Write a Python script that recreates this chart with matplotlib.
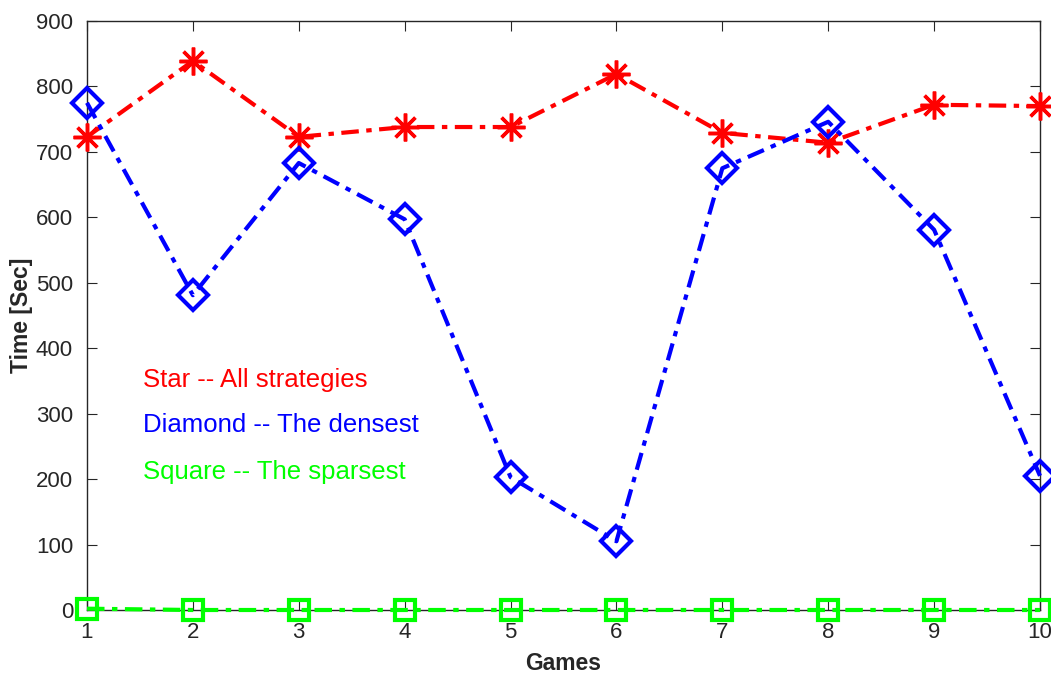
import matplotlib
matplotlib.use('Agg')
import matplotlib.pyplot as plt

plt.rcParams['font.family'] = ['Liberation Sans', 'DejaVu Sans']

games = [1, 2, 3, 4, 5, 6, 7, 8, 9, 10]
all_strategies = [723, 839, 723, 738, 738, 819, 729, 714, 772, 770]
densest = [775, 481, 683, 597, 203, 105, 675, 746, 581, 205]
sparsest = [2, 0, 0, 0, 0, 0, 0, 0, 0, 0]

dashdot = (0, (4.2, 1.8, 1.3, 1.8))

fig = plt.figure(figsize=(10.51, 6.74), dpi=100)
ax = fig.add_axes([87 / 1051, 64 / 674, 953 / 1051, 589 / 674])

ax.plot(games, all_strategies, color='#ff0000', linestyle=dashdot, linewidth=3,
        marker=(8, 2, 0), markersize=20, markeredgewidth=2.5, clip_on=False, zorder=3)
ax.plot(games, densest, color='#0000ff', linestyle=dashdot, linewidth=3,
        marker='D', markersize=15, markerfacecolor='none', markeredgewidth=3,
        clip_on=False, zorder=3)
ax.plot(games, sparsest, color='#00ff00', linestyle=dashdot, linewidth=3,
        marker='s', markersize=15, markerfacecolor='none', markeredgewidth=3,
        clip_on=False, zorder=3)

ax.text(1.53, 351, 'Star -- All strategies', color='#ff0000', fontsize=18.5, va='center')
ax.text(1.53, 283, 'Diamond -- The densest', color='#0000ff', fontsize=18.5, va='center')
ax.text(1.53, 211, 'Square -- The sparsest', color='#00ff00', fontsize=18.5, va='center')

ax.set_xlim(1, 10)
ax.set_ylim(0, 900)
ax.set_xticks(games)
ax.set_yticks(range(0, 901, 100))
ax.tick_params(direction='in', labelsize=16, length=7, colors='#262626',
               top=True, right=True)
ax.tick_params(axis='x', pad=9)
ax.tick_params(axis='y', pad=10)
for s in ax.spines.values():
    s.set_color('#262626')
    s.set_linewidth(1)

ax.set_xlabel('Games', fontsize=16.5, fontweight='bold', color='#262626')
ax.set_ylabel('Time [Sec]', fontsize=16.5, fontweight='bold', color='#262626')
ax.xaxis.set_label_coords(0.5, -0.071)
ax.yaxis.set_label_coords(-0.057, 0.5)

fig.savefig('out.png', dpi=100)
